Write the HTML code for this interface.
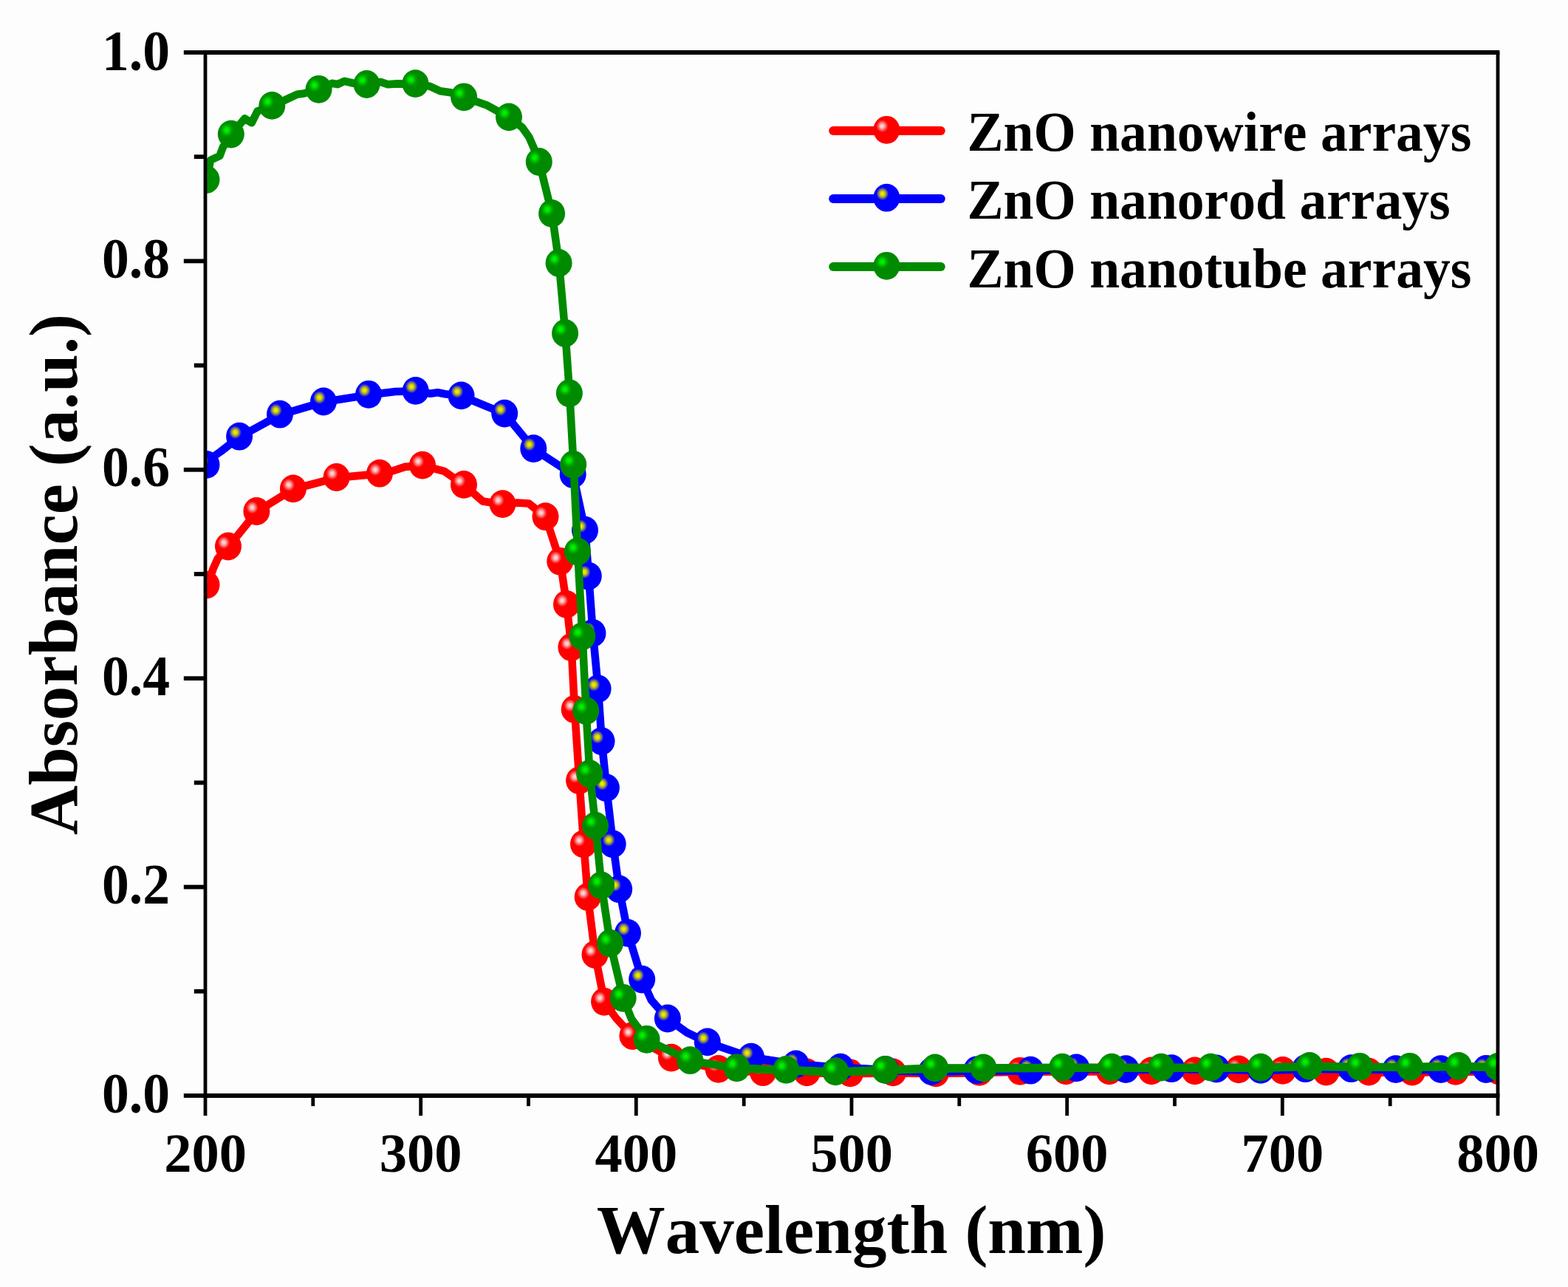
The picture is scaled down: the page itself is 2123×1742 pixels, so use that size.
<!DOCTYPE html>
<html lang="en">
<head>
<meta charset="utf-8">
<title>Absorbance of ZnO nanostructure arrays</title>
<style>
html,body{margin:0;padding:0;background:#fdfdfd;width:2123px;height:1742px;}
body{overflow:hidden;}
svg{display:block;}
text{font-family:"Liberation Serif",serif;font-weight:bold;fill:#000;font-kerning:none;}
.ytick{font-size:73.6px;}
.xtick{font-size:74.5px;}
.title{font-size:93px;}
.leg{font-size:73.6px;}
</style>
</head>
<body>
<svg width="2123" height="1742" viewBox="0 0 2123 1742">
<defs>
<radialGradient id="gr" cx="0.335" cy="0.365" r="0.225" fx="0.335" fy="0.365">
<stop offset="0" stop-color="#ffe0e0"/><stop offset="0.3" stop-color="#ffc0c0"/><stop offset="0.65" stop-color="#ff5c5c"/><stop offset="1" stop-color="#ff0000"/>
</radialGradient>
<radialGradient id="gb" cx="0.345" cy="0.355" r="0.235" fx="0.345" fy="0.355">
<stop offset="0" stop-color="#f0f000"/><stop offset="0.3" stop-color="#dcdc00"/><stop offset="0.65" stop-color="#7c7c6c"/><stop offset="1" stop-color="#0000ff"/>
</radialGradient>
<radialGradient id="gg" cx="0.335" cy="0.355" r="0.26" fx="0.335" fy="0.355">
<stop offset="0" stop-color="#00fa00"/><stop offset="0.3" stop-color="#00e400"/><stop offset="0.7" stop-color="#00a400"/><stop offset="1" stop-color="#008a00"/>
</radialGradient>
<clipPath id="clip"><rect x="278.0" y="51.0" width="1750.0" height="1452.0"/></clipPath>
</defs>
<rect x="-5" y="-5" width="2133" height="1752" fill="#fdfdfd"/>
<g clip-path="url(#clip)">
<path d="M279.8,792.2 L284.5,782.0 L288.3,770.7 L294.7,756.0 L309.3,740.1 L347.7,692.6 L397.2,662.0 L455.9,646.6 L514.3,641.3 L533.7,636.8 L548.4,631.9 L572.3,630.2 L601.6,637.8 L628.3,656.5 L653.6,678.4 L680.8,682.7 L700.4,680.5 L716.0,681.5 L738.8,699.8 L758.6,760.4 L767.3,818.5 L773.7,876.6 L778.0,960.6 L784.4,1057.0 L790.3,1143.0 L796.0,1214.6 L805.8,1292.6 L818.4,1356.4 L834.0,1378.0 L856.7,1402.6 L909.2,1432.2 L973.0,1447.5 L1033.3,1451.8 L1092.8,1452.0 L1151.5,1452.9 L1209.4,1452.0 L1267.3,1452.9 L1326.3,1451.5 L1381.5,1450.4 L1443.5,1450.0 L1502.2,1450.0 L1559.3,1450.0 L1618.0,1450.0 L1677.5,1448.0 L1737.1,1449.5 L1795.8,1451.2 L1853.7,1451.2 L1912.4,1451.2 L1971.1,1450.4 L2029.3,1450.0" fill="none" stroke="#ff0000" stroke-width="10.6" stroke-linejoin="round" stroke-linecap="round"/>
<path d="M1033.3,1451.8 L1092.8,1452.0 L1151.5,1452.9 L1209.4,1452.0 L1267.3,1452.9 L1326.3,1451.5 L1381.5,1450.4 L1443.5,1450.0 L1502.2,1450.0 L1559.3,1450.0 L1618.0,1450.0 L1677.5,1448.0 L1737.1,1449.5 L1795.8,1451.2 L1853.7,1451.2 L1912.4,1451.2 L1971.1,1450.4 L2029.3,1450.0" fill="none" stroke="#ff0000" stroke-width="11.4" stroke-linejoin="round" stroke-linecap="round"/>
<ellipse cx="279.5" cy="791.6" rx="18.0" ry="18.9" fill="url(#gr)"/><ellipse cx="309.0" cy="739.5" rx="18.0" ry="18.9" fill="url(#gr)"/><ellipse cx="347.4" cy="692.0" rx="18.0" ry="18.9" fill="url(#gr)"/><ellipse cx="396.9" cy="661.4" rx="18.0" ry="18.9" fill="url(#gr)"/><ellipse cx="455.6" cy="646.0" rx="18.0" ry="18.9" fill="url(#gr)"/><ellipse cx="514.0" cy="640.7" rx="18.0" ry="18.9" fill="url(#gr)"/><ellipse cx="572.0" cy="629.6" rx="18.0" ry="18.9" fill="url(#gr)"/><ellipse cx="628.0" cy="655.9" rx="18.0" ry="18.9" fill="url(#gr)"/><ellipse cx="680.5" cy="682.1" rx="18.0" ry="18.9" fill="url(#gr)"/><ellipse cx="738.5" cy="699.2" rx="18.0" ry="18.9" fill="url(#gr)"/><ellipse cx="758.3" cy="759.8" rx="18.0" ry="18.9" fill="url(#gr)"/><ellipse cx="767.0" cy="817.9" rx="18.0" ry="18.9" fill="url(#gr)"/><ellipse cx="773.4" cy="876.0" rx="18.0" ry="18.9" fill="url(#gr)"/><ellipse cx="777.7" cy="960.0" rx="18.0" ry="18.9" fill="url(#gr)"/><ellipse cx="784.1" cy="1056.4" rx="18.0" ry="18.9" fill="url(#gr)"/><ellipse cx="790.0" cy="1142.4" rx="18.0" ry="18.9" fill="url(#gr)"/><ellipse cx="795.7" cy="1214.0" rx="18.0" ry="18.9" fill="url(#gr)"/><ellipse cx="805.5" cy="1292.0" rx="18.0" ry="18.9" fill="url(#gr)"/><ellipse cx="818.1" cy="1355.8" rx="18.0" ry="18.9" fill="url(#gr)"/><ellipse cx="856.4" cy="1402.0" rx="18.0" ry="18.9" fill="url(#gr)"/><ellipse cx="908.9" cy="1431.6" rx="18.0" ry="18.9" fill="url(#gr)"/><ellipse cx="972.7" cy="1446.9" rx="18.0" ry="18.9" fill="url(#gr)"/><ellipse cx="1033.0" cy="1451.2" rx="18.0" ry="18.9" fill="url(#gr)"/><ellipse cx="1092.5" cy="1451.4" rx="18.0" ry="18.9" fill="url(#gr)"/><ellipse cx="1151.2" cy="1452.3" rx="18.0" ry="18.9" fill="url(#gr)"/><ellipse cx="1209.1" cy="1451.4" rx="18.0" ry="18.9" fill="url(#gr)"/><ellipse cx="1267.0" cy="1452.3" rx="18.0" ry="18.9" fill="url(#gr)"/><ellipse cx="1326.0" cy="1450.9" rx="18.0" ry="18.9" fill="url(#gr)"/><ellipse cx="1381.2" cy="1449.8" rx="18.0" ry="18.9" fill="url(#gr)"/><ellipse cx="1443.2" cy="1449.4" rx="18.0" ry="18.9" fill="url(#gr)"/><ellipse cx="1501.9" cy="1449.4" rx="18.0" ry="18.9" fill="url(#gr)"/><ellipse cx="1559.0" cy="1449.4" rx="18.0" ry="18.9" fill="url(#gr)"/><ellipse cx="1617.7" cy="1449.4" rx="18.0" ry="18.9" fill="url(#gr)"/><ellipse cx="1677.2" cy="1447.4" rx="18.0" ry="18.9" fill="url(#gr)"/><ellipse cx="1736.8" cy="1448.9" rx="18.0" ry="18.9" fill="url(#gr)"/><ellipse cx="1795.5" cy="1450.6" rx="18.0" ry="18.9" fill="url(#gr)"/><ellipse cx="1853.4" cy="1450.6" rx="18.0" ry="18.9" fill="url(#gr)"/><ellipse cx="1912.1" cy="1450.6" rx="18.0" ry="18.9" fill="url(#gr)"/><ellipse cx="1970.8" cy="1449.8" rx="18.0" ry="18.9" fill="url(#gr)"/><ellipse cx="2029.0" cy="1449.4" rx="18.0" ry="18.9" fill="url(#gr)"/>
<path d="M279.8,629.5 L289.0,618.0 L298.4,611.5 L324.4,591.3 L379.3,561.3 L438.3,544.1 L499.4,534.4 L535.7,530.0 L563.0,529.5 L582.7,532.8 L592.5,531.3 L602.3,533.3 L624.8,536.0 L683.5,560.2 L722.6,607.7 L776.0,642.6 L792.3,718.3 L797.1,780.3 L802.8,857.5 L809.9,932.9 L814.8,1003.8 L821.2,1066.9 L830.0,1143.0 L838.5,1204.0 L850.3,1263.5 L869.5,1326.2 L881.9,1353.7 L904.2,1379.1 L930.1,1397.6 L958.1,1411.0 L1017.3,1431.3 L1077.9,1441.0 L1138.3,1445.2 L1199.3,1448.5 L1261.5,1450.6 L1322.7,1448.9 L1395.6,1449.3 L1457.6,1446.0 L1524.6,1447.7 L1586.6,1446.8 L1647.3,1447.1 L1707.3,1448.5 L1767.7,1446.8 L1829.7,1446.8 L1890.1,1447.7 L1951.2,1447.7 L2012.3,1447.6 L2040.0,1447.0" fill="none" stroke="#0000ff" stroke-width="10.6" stroke-linejoin="round" stroke-linecap="round"/>
<path d="M1017.3,1431.3 L1077.9,1441.0 L1138.3,1445.2 L1199.3,1448.5 L1261.5,1450.6 L1322.7,1448.9 L1395.6,1449.3 L1457.6,1446.0 L1524.6,1447.7 L1586.6,1446.8 L1647.3,1447.1 L1707.3,1448.5 L1767.7,1446.8 L1829.7,1446.8 L1890.1,1447.7 L1951.2,1447.7 L2012.3,1447.6 L2040.0,1447.0" fill="none" stroke="#0000ff" stroke-width="11.4" stroke-linejoin="round" stroke-linecap="round"/>
<ellipse cx="279.5" cy="628.9" rx="18.0" ry="18.9" fill="url(#gb)"/><ellipse cx="324.1" cy="590.7" rx="18.0" ry="18.9" fill="url(#gb)"/><ellipse cx="379.0" cy="560.7" rx="18.0" ry="18.9" fill="url(#gb)"/><ellipse cx="438.0" cy="543.5" rx="18.0" ry="18.9" fill="url(#gb)"/><ellipse cx="499.1" cy="533.8" rx="18.0" ry="18.9" fill="url(#gb)"/><ellipse cx="562.7" cy="528.9" rx="18.0" ry="18.9" fill="url(#gb)"/><ellipse cx="624.5" cy="535.4" rx="18.0" ry="18.9" fill="url(#gb)"/><ellipse cx="683.2" cy="559.6" rx="18.0" ry="18.9" fill="url(#gb)"/><ellipse cx="722.3" cy="607.1" rx="18.0" ry="18.9" fill="url(#gb)"/><ellipse cx="775.7" cy="642.0" rx="18.0" ry="18.9" fill="url(#gb)"/><ellipse cx="792.0" cy="717.7" rx="18.0" ry="18.9" fill="url(#gb)"/><ellipse cx="796.8" cy="779.7" rx="18.0" ry="18.9" fill="url(#gb)"/><ellipse cx="802.5" cy="856.9" rx="18.0" ry="18.9" fill="url(#gb)"/><ellipse cx="809.6" cy="932.3" rx="18.0" ry="18.9" fill="url(#gb)"/><ellipse cx="814.5" cy="1003.2" rx="18.0" ry="18.9" fill="url(#gb)"/><ellipse cx="820.9" cy="1066.3" rx="18.0" ry="18.9" fill="url(#gb)"/><ellipse cx="829.7" cy="1142.4" rx="18.0" ry="18.9" fill="url(#gb)"/><ellipse cx="838.2" cy="1203.4" rx="18.0" ry="18.9" fill="url(#gb)"/><ellipse cx="850.0" cy="1262.9" rx="18.0" ry="18.9" fill="url(#gb)"/><ellipse cx="869.2" cy="1325.6" rx="18.0" ry="18.9" fill="url(#gb)"/><ellipse cx="903.9" cy="1378.5" rx="18.0" ry="18.9" fill="url(#gb)"/><ellipse cx="957.8" cy="1410.4" rx="18.0" ry="18.9" fill="url(#gb)"/><ellipse cx="1017.0" cy="1430.7" rx="18.0" ry="18.9" fill="url(#gb)"/><ellipse cx="1077.6" cy="1440.4" rx="18.0" ry="18.9" fill="url(#gb)"/><ellipse cx="1138.0" cy="1444.6" rx="18.0" ry="18.9" fill="url(#gb)"/><ellipse cx="1199.0" cy="1447.9" rx="18.0" ry="18.9" fill="url(#gb)"/><ellipse cx="1261.2" cy="1450.0" rx="18.0" ry="18.9" fill="url(#gb)"/><ellipse cx="1322.4" cy="1448.3" rx="18.0" ry="18.9" fill="url(#gb)"/><ellipse cx="1395.3" cy="1448.7" rx="18.0" ry="18.9" fill="url(#gb)"/><ellipse cx="1457.3" cy="1445.4" rx="18.0" ry="18.9" fill="url(#gb)"/><ellipse cx="1524.3" cy="1447.1" rx="18.0" ry="18.9" fill="url(#gb)"/><ellipse cx="1586.3" cy="1446.2" rx="18.0" ry="18.9" fill="url(#gb)"/><ellipse cx="1647.0" cy="1446.5" rx="18.0" ry="18.9" fill="url(#gb)"/><ellipse cx="1707.0" cy="1447.9" rx="18.0" ry="18.9" fill="url(#gb)"/><ellipse cx="1767.4" cy="1446.2" rx="18.0" ry="18.9" fill="url(#gb)"/><ellipse cx="1829.4" cy="1446.2" rx="18.0" ry="18.9" fill="url(#gb)"/><ellipse cx="1889.8" cy="1447.1" rx="18.0" ry="18.9" fill="url(#gb)"/><ellipse cx="1950.9" cy="1447.1" rx="18.0" ry="18.9" fill="url(#gb)"/><ellipse cx="2012.0" cy="1447.0" rx="18.0" ry="18.9" fill="url(#gb)"/>
<path d="M279.8,243.6 L285.1,216.7 L297.4,211.0 L302.1,198.7 L313.1,182.2 L331.4,160.4 L340.8,166.3 L348.5,150.5 L368.6,143.5 L388.1,134.4 L402.3,127.8 L411.8,126.4 L431.9,121.4 L449.6,112.7 L457.1,114.1 L466.5,109.8 L477.8,112.5 L496.8,114.6 L515.6,111.0 L525.1,114.3 L537.4,113.4 L562.7,113.7 L581.8,116.7 L596.0,123.3 L610.1,125.2 L628.4,131.9 L647.3,138.2 L658.6,142.2 L689.3,159.0 L706.8,172.2 L716.3,185.5 L722.9,200.6 L730.1,219.6 L747.4,289.5 L756.9,356.6 L765.4,451.6 L771.2,532.9 L776.5,629.4 L782.2,747.2 L788.6,861.9 L793.6,962.7 L798.5,1047.8 L806.4,1118.2 L814.4,1199.0 L826.3,1277.4 L844.0,1351.4 L855.0,1379.2 L875.9,1407.4 L934.7,1435.8 L997.9,1445.9 L1064.7,1448.5 L1131.6,1451.0 L1198.6,1448.5 L1266.4,1446.0 L1331.8,1446.0 L1438.6,1445.2 L1505.5,1445.2 L1572.5,1445.2 L1639.5,1445.2 L1707.3,1445.2 L1773.4,1443.5 L1841.3,1444.4 L1909.1,1444.4 L1975.2,1443.5 L2028.3,1444.6" fill="none" stroke="#008a00" stroke-width="10.6" stroke-linejoin="round" stroke-linecap="round"/>
<path d="M997.9,1445.9 L1064.7,1448.5 L1131.6,1451.0 L1198.6,1448.5 L1266.4,1446.0 L1331.8,1446.0 L1438.6,1445.2 L1505.5,1445.2 L1572.5,1445.2 L1639.5,1445.2 L1707.3,1445.2 L1773.4,1443.5 L1841.3,1444.4 L1909.1,1444.4 L1975.2,1443.5 L2028.3,1444.6" fill="none" stroke="#008a00" stroke-width="11.4" stroke-linejoin="round" stroke-linecap="round"/>
<ellipse cx="279.5" cy="243.0" rx="18.0" ry="18.9" fill="url(#gg)"/><ellipse cx="312.8" cy="181.6" rx="18.0" ry="18.9" fill="url(#gg)"/><ellipse cx="368.3" cy="142.9" rx="18.0" ry="18.9" fill="url(#gg)"/><ellipse cx="431.6" cy="120.8" rx="18.0" ry="18.9" fill="url(#gg)"/><ellipse cx="496.5" cy="114.0" rx="18.0" ry="18.9" fill="url(#gg)"/><ellipse cx="562.4" cy="113.1" rx="18.0" ry="18.9" fill="url(#gg)"/><ellipse cx="628.1" cy="131.3" rx="18.0" ry="18.9" fill="url(#gg)"/><ellipse cx="689.0" cy="158.4" rx="18.0" ry="18.9" fill="url(#gg)"/><ellipse cx="729.8" cy="219.0" rx="18.0" ry="18.9" fill="url(#gg)"/><ellipse cx="747.1" cy="288.9" rx="18.0" ry="18.9" fill="url(#gg)"/><ellipse cx="756.6" cy="356.0" rx="18.0" ry="18.9" fill="url(#gg)"/><ellipse cx="765.1" cy="451.0" rx="18.0" ry="18.9" fill="url(#gg)"/><ellipse cx="770.9" cy="532.3" rx="18.0" ry="18.9" fill="url(#gg)"/><ellipse cx="776.2" cy="628.8" rx="18.0" ry="18.9" fill="url(#gg)"/><ellipse cx="781.9" cy="746.6" rx="18.0" ry="18.9" fill="url(#gg)"/><ellipse cx="788.3" cy="861.3" rx="18.0" ry="18.9" fill="url(#gg)"/><ellipse cx="793.3" cy="962.1" rx="18.0" ry="18.9" fill="url(#gg)"/><ellipse cx="798.2" cy="1047.2" rx="18.0" ry="18.9" fill="url(#gg)"/><ellipse cx="806.1" cy="1117.6" rx="18.0" ry="18.9" fill="url(#gg)"/><ellipse cx="814.1" cy="1198.4" rx="18.0" ry="18.9" fill="url(#gg)"/><ellipse cx="826.0" cy="1276.8" rx="18.0" ry="18.9" fill="url(#gg)"/><ellipse cx="843.7" cy="1350.8" rx="18.0" ry="18.9" fill="url(#gg)"/><ellipse cx="875.6" cy="1406.8" rx="18.0" ry="18.9" fill="url(#gg)"/><ellipse cx="934.4" cy="1435.2" rx="18.0" ry="18.9" fill="url(#gg)"/><ellipse cx="997.6" cy="1445.3" rx="18.0" ry="18.9" fill="url(#gg)"/><ellipse cx="1064.4" cy="1447.9" rx="18.0" ry="18.9" fill="url(#gg)"/><ellipse cx="1131.3" cy="1450.4" rx="18.0" ry="18.9" fill="url(#gg)"/><ellipse cx="1198.3" cy="1447.9" rx="18.0" ry="18.9" fill="url(#gg)"/><ellipse cx="1266.1" cy="1445.4" rx="18.0" ry="18.9" fill="url(#gg)"/><ellipse cx="1331.5" cy="1445.4" rx="18.0" ry="18.9" fill="url(#gg)"/><ellipse cx="1438.3" cy="1444.6" rx="18.0" ry="18.9" fill="url(#gg)"/><ellipse cx="1505.2" cy="1444.6" rx="18.0" ry="18.9" fill="url(#gg)"/><ellipse cx="1572.2" cy="1444.6" rx="18.0" ry="18.9" fill="url(#gg)"/><ellipse cx="1639.2" cy="1444.6" rx="18.0" ry="18.9" fill="url(#gg)"/><ellipse cx="1707.0" cy="1444.6" rx="18.0" ry="18.9" fill="url(#gg)"/><ellipse cx="1773.1" cy="1442.9" rx="18.0" ry="18.9" fill="url(#gg)"/><ellipse cx="1841.0" cy="1443.8" rx="18.0" ry="18.9" fill="url(#gg)"/><ellipse cx="1908.8" cy="1443.8" rx="18.0" ry="18.9" fill="url(#gg)"/><ellipse cx="1974.9" cy="1442.9" rx="18.0" ry="18.9" fill="url(#gg)"/><ellipse cx="2028.0" cy="1444.0" rx="18.0" ry="18.9" fill="url(#gg)"/>
</g>
<g stroke="#000" fill="none" stroke-linecap="butt">
<line x1="275.6" y1="71.0" x2="2030.4" y2="71.0" stroke-width="5.8"/><line x1="275.6" y1="1483.0" x2="2030.4" y2="1483.0" stroke-width="5.8"/><line x1="278.0" y1="71.0" x2="278.0" y2="1483.0" stroke-width="4.8"/><line x1="2028.0" y1="71.0" x2="2028.0" y2="1483.0" stroke-width="4.8"/>
<line x1="248.8" y1="1483.0" x2="278.0" y2="1483.0" stroke-width="5.8"/><line x1="262.8" y1="1341.8" x2="278.0" y2="1341.8" stroke-width="5.8"/><line x1="248.8" y1="1200.6" x2="278.0" y2="1200.6" stroke-width="5.8"/><line x1="262.8" y1="1059.4" x2="278.0" y2="1059.4" stroke-width="5.8"/><line x1="248.8" y1="918.2" x2="278.0" y2="918.2" stroke-width="5.8"/><line x1="262.8" y1="777.0" x2="278.0" y2="777.0" stroke-width="5.8"/><line x1="248.8" y1="635.8" x2="278.0" y2="635.8" stroke-width="5.8"/><line x1="262.8" y1="494.6" x2="278.0" y2="494.6" stroke-width="5.8"/><line x1="248.8" y1="353.4" x2="278.0" y2="353.4" stroke-width="5.8"/><line x1="262.8" y1="212.2" x2="278.0" y2="212.2" stroke-width="5.8"/><line x1="248.8" y1="71.0" x2="278.0" y2="71.0" stroke-width="5.8"/>
<line x1="278.0" y1="1483.0" x2="278.0" y2="1510.2" stroke-width="4.8"/><line x1="423.8" y1="1483.0" x2="423.8" y2="1497.2" stroke-width="4.8"/><line x1="569.7" y1="1483.0" x2="569.7" y2="1510.2" stroke-width="4.8"/><line x1="715.5" y1="1483.0" x2="715.5" y2="1497.2" stroke-width="4.8"/><line x1="861.3" y1="1483.0" x2="861.3" y2="1510.2" stroke-width="4.8"/><line x1="1007.2" y1="1483.0" x2="1007.2" y2="1497.2" stroke-width="4.8"/><line x1="1153.0" y1="1483.0" x2="1153.0" y2="1510.2" stroke-width="4.8"/><line x1="1298.8" y1="1483.0" x2="1298.8" y2="1497.2" stroke-width="4.8"/><line x1="1444.7" y1="1483.0" x2="1444.7" y2="1510.2" stroke-width="4.8"/><line x1="1590.5" y1="1483.0" x2="1590.5" y2="1497.2" stroke-width="4.8"/><line x1="1736.3" y1="1483.0" x2="1736.3" y2="1510.2" stroke-width="4.8"/><line x1="1882.2" y1="1483.0" x2="1882.2" y2="1497.2" stroke-width="4.8"/><line x1="2028.0" y1="1483.0" x2="2028.0" y2="1510.2" stroke-width="4.8"/>
</g>
<g class="ytick" text-anchor="end">
<text transform="translate(230,1506.1) scale(1,1.07)">0.0</text><text transform="translate(230,1222.9) scale(1,1.07)">0.2</text><text transform="translate(230,940.5) scale(1,1.07)">0.4</text><text transform="translate(230,658.1) scale(1,1.07)">0.6</text><text transform="translate(230,375.7) scale(1,1.07)">0.8</text><text transform="translate(230,94.8) scale(1,1.07)">1.0</text>
</g>
<g class="xtick" text-anchor="middle">
<text x="278.0" y="1586.2">200</text><text x="569.7" y="1586.2">300</text><text x="861.3" y="1586.2">400</text><text x="1153.0" y="1586.2">500</text><text x="1444.7" y="1586.2">600</text><text x="1736.3" y="1586.2">700</text><text x="2028.0" y="1586.2">800</text>
</g>
<text class="title" text-anchor="middle" x="1152.7" y="1696">Wavelength (nm)</text>
<text class="title" text-anchor="middle" transform="translate(103.8,777.6) rotate(-90)">Absorbance (a.u.)</text>
<line x1="1128.2" y1="177.0" x2="1273.8" y2="177.0" stroke="#ff0000" stroke-width="12" stroke-linecap="round"/><ellipse cx="1200.4" cy="175.8" rx="18.0" ry="18.9" fill="url(#gr)"/><text class="leg" transform="translate(1309.5,203.7) scale(1,1.04)">ZnO nanowire arrays</text>
<line x1="1128.2" y1="268.9" x2="1273.8" y2="268.9" stroke="#0000ff" stroke-width="12" stroke-linecap="round"/><ellipse cx="1200.4" cy="267.7" rx="18.0" ry="18.9" fill="url(#gb)"/><text class="leg" transform="translate(1309.5,296.4) scale(1,1.04)">ZnO nanorod arrays</text>
<line x1="1128.2" y1="361.0" x2="1273.8" y2="361.0" stroke="#008a00" stroke-width="12" stroke-linecap="round"/><ellipse cx="1200.4" cy="359.8" rx="18.0" ry="18.9" fill="url(#gg)"/><text class="leg" transform="translate(1309.5,388.5) scale(1,1.04)">ZnO nanotube arrays</text>
</svg>
</body>
</html>
